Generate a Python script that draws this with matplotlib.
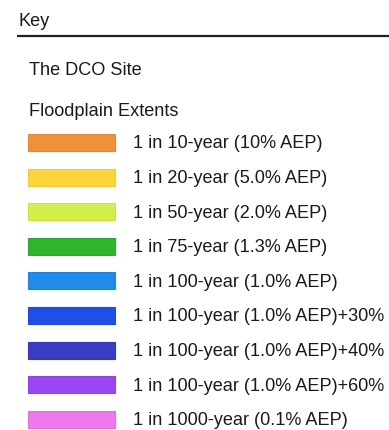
import matplotlib
matplotlib.use("Agg")
import matplotlib.pyplot as plt

title = "Key"
site_label = "The DCO Site"
group_label = "Floodplain Extents"
labels = [
    "1 in 10-year (10% AEP)",
    "1 in 20-year (5.0% AEP)",
    "1 in 50-year (2.0% AEP)",
    "1 in 75-year (1.3% AEP)",
    "1 in 100-year (1.0% AEP)",
    "1 in 100-year (1.0% AEP)+30%",
    "1 in 100-year (1.0% AEP)+40%",
    "1 in 100-year (1.0% AEP)+60%",
    "1 in 1000-year (0.1% AEP)",
]
colors = ["#F0903A", "#FAD63C", "#D2F04C", "#2EB52C", "#1E8CE8",
          "#1F4FE6", "#3A3EC4", "#9A46F2", "#EE78EE"]
edges = ["#E08838", "#F0CC38", "#C8E448", "#2AAA2A", "#1C84DC",
         "#1C4ADA", "#3638B8", "#9040E4", "#E070E0"]

W, H = 389, 431
fig = plt.figure(figsize=(W / 100, H / 100), dpi=100)
ax = fig.add_axes([0, 0, 1, 1])
ax.set_xlim(0, W)
ax.set_ylim(H, 0)
ax.axis("off")

font = "Liberation Sans"
fs = 13.05
ax.text(19, 21, title, fontsize=fs, family=font, va="center", ha="left", color="#1a1a1a")
ax.plot([17, W], [36.5, 36.5], color="#222222", lw=1.6, solid_capstyle="butt")
ax.text(29, 70.5, site_label, fontsize=fs, family=font, va="center", ha="left", color="#1a1a1a")
ax.text(29, 111.5, group_label, fontsize=fs, family=font, va="center", ha="left", color="#1a1a1a")

ys = [143.5 + 34.6 * i for i in range(len(labels))]
ax.barh(ys, [87] * len(labels), left=28, height=17, color=colors,
        edgecolor=edges, linewidth=0.8)
for y, lab in zip(ys, labels):
    ax.text(133, y + 0.5, lab, fontsize=fs, family=font, va="center", ha="left", color="#1a1a1a")

fig.savefig("out.png", dpi=100, facecolor="white")
